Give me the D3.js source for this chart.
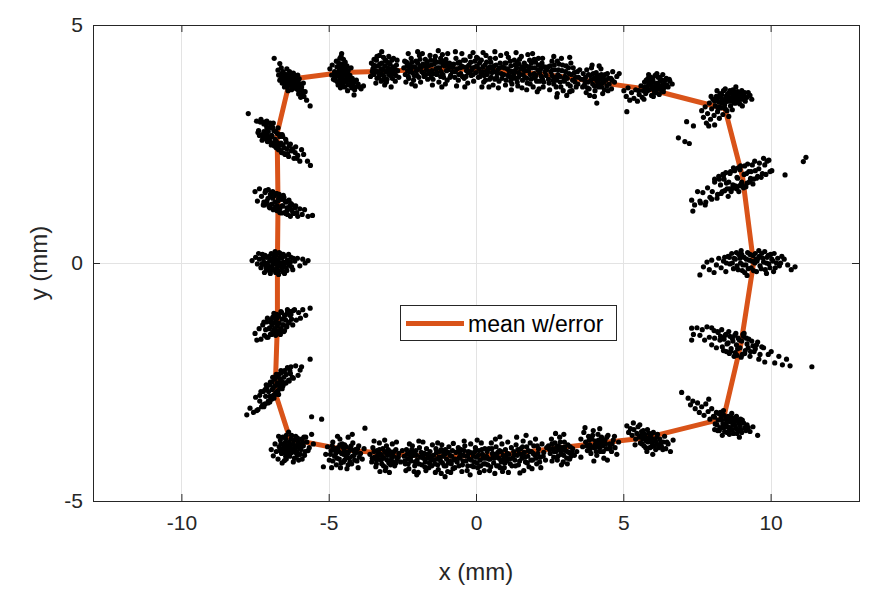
<!DOCTYPE html>
<html>
<head>
<meta charset="utf-8">
<script src="https://cdn.jsdelivr.net/npm/d3@7"></script>
<style>
  body { margin: 0; background: #fff; }
  svg { display: block; font-family: "Liberation Sans", Arial, Helvetica, sans-serif; }
</style>
</head>
<body>
<svg id="chart" width="881" height="594"></svg>
<script>
// Axis settings (mm)
const xDomain = [-13, 13];
const yDomain = [-5, 5];
const xTicks = [-10, -5, 0, 5, 10];
const yTicks = [-5, 0, 5];
const xLabel = "x (mm)";
const yLabel = "y (mm)";
const legendLabel = "mean w/error";

// Mean trajectory through the target positions (closed loop, clockwise from top-left)
const meanPath = [
  [-6.31,3.86],[-4.55,4.00],[-3.10,4.03],[-2.00,4.06],[-1.20,4.07],[-0.30,4.07],[0.50,4.05],[1.30,4.02],
  [2.00,3.98],[2.90,3.92],[4.10,3.80],[5.95,3.64],[8.45,3.24],[9.05,1.80],[9.42,0.00],[9.00,-1.68],
  [8.40,-3.27],[5.80,-3.67],[4.20,-3.78],[2.85,-3.88],[1.70,-3.97],[0.80,-4.03],[-0.10,-4.05],[-1.00,-4.06],
  [-1.90,-4.05],[-3.00,-4.00],[-4.40,-3.93],[-6.31,-3.70],[-6.82,-2.72],[-6.74,-1.27],[-6.74,0.02],
  [-6.72,1.27],[-6.75,2.72],[-6.31,3.86]
];

// Measured positions, left side (top to bottom)
const leftColumn = [
  [-6.85,4.30],[-6.66,4.19],[-6.72,4.05],[-6.61,4.10],[-6.55,4.02],[-6.70,3.95],[-6.62,3.88],[-6.48,3.97],[-6.44,3.90],[-6.52,3.84],
  [-6.40,3.81],[-6.35,3.95],[-6.30,3.88],[-6.27,3.79],[-6.22,3.92],[-6.18,3.84],[-6.12,3.88],[-6.08,3.80],[-6.15,3.73],[-6.25,3.70],
  [-6.35,3.74],[-6.45,3.76],[-6.58,3.78],[-6.05,3.95],[-6.00,3.87],[-5.98,3.76],[-6.10,3.66],[-6.02,3.62],[-5.92,3.70],[-5.88,3.55],
  [-5.95,3.48],[-5.80,3.60],[-5.75,3.42],[-5.63,3.30],[-6.38,3.62],[-6.20,3.99],[-6.33,4.02],[-6.42,4.08],[-6.14,3.93],[-6.28,3.84],
  [-6.50,3.70],[-6.66,3.84],[-5.86,3.78],[-6.06,3.72],[-6.24,3.76],
  [-6.46,3.86],[-6.38,3.92],[-6.21,3.86],[-6.33,3.80],[-6.17,3.78],[-6.41,3.70],[-6.29,3.96],[-6.56,3.92],[-6.12,3.70],[-6.04,3.82],
  [-6.26,3.64],[-6.48,3.80],[-6.36,3.88],[-6.19,3.96],[-6.09,3.77],[-5.97,3.66],[-5.84,3.50],[-6.02,3.55],[-5.90,3.62],[-6.60,3.98],
  [-7.73,3.14],[-7.45,2.98],[-7.38,2.78],[-7.30,3.02],[-7.25,2.70],[-7.20,2.92],[-7.15,2.62],[-7.10,2.98],[-7.05,2.76],[-7.00,2.56],
  [-6.97,2.88],[-6.92,2.66],[-6.88,2.94],[-6.84,2.48],[-6.80,2.76],[-6.76,2.52],[-6.72,2.84],[-6.70,2.40],[-6.66,2.66],[-6.62,2.36],
  [-6.58,2.70],[-6.55,2.48],[-6.50,2.30],[-6.46,2.60],[-6.42,2.40],[-6.36,2.24],[-6.30,2.50],[-6.25,2.36],[-6.18,2.20],[-6.12,2.44],
  [-6.05,2.26],[-5.98,2.14],[-5.92,2.38],[-5.85,2.28],[-5.72,2.14],[-5.62,2.05],[-7.22,2.62],[-7.35,2.68],[-7.08,2.55],[-6.95,2.48],
  [-6.78,2.42],[-6.90,2.85],[-7.18,2.96],[-6.65,2.70],[-6.48,2.28],[-6.60,2.32],
  [-7.32,2.96],[-7.12,2.90],[-6.98,2.94],[-7.26,2.58],[-7.40,2.74],[-7.06,2.66],[-6.94,2.68],[-6.86,2.78],[-6.74,2.72],[-6.68,2.48],
  [-6.82,2.60],[-7.02,2.60],[-7.14,2.70],[-6.90,2.52],[-6.78,2.56],[-6.56,2.66],[-6.62,2.52],[-6.44,2.54],[-6.34,2.46],[-6.52,2.42],
  [-6.40,2.30],[-6.22,2.40],[-6.14,2.32],[-6.08,2.20],[-6.28,2.36],[-6.96,2.84],[-7.20,2.76],[-7.10,2.84],[-6.84,2.46],[-6.70,2.38],
  [-7.50,1.50],[-7.42,1.30],[-7.35,1.56],[-7.28,1.40],[-7.22,1.22],[-7.16,1.48],[-7.10,1.30],[-7.05,1.54],[-7.00,1.16],[-6.95,1.40],
  [-6.90,1.50],[-6.86,1.14],[-6.82,1.28],[-6.78,1.46],[-6.74,1.20],[-6.70,1.36],[-6.66,1.06],[-6.62,1.34],[-6.58,1.20],[-6.54,1.42],
  [-6.50,1.06],[-6.45,1.28],[-6.40,1.12],[-6.35,1.32],[-6.30,0.98],[-6.24,1.22],[-6.18,1.04],[-6.12,1.20],[-6.05,0.98],[-5.98,1.14],
  [-5.90,1.02],[-5.82,1.12],[-5.70,0.98],[-5.55,1.00],[-6.88,1.12],[-7.02,1.18],[-6.68,1.44],[-6.52,1.38],[-6.75,1.10],[-6.60,1.05],
  [-6.95,1.48],[-6.40,1.02],[-6.28,1.25],[-7.18,1.22],
  [-7.14,1.52],[-7.20,1.28],[-6.98,1.44],[-6.84,1.42],[-6.92,1.24],[-6.80,1.18],[-6.72,1.30],[-6.64,1.40],[-6.56,1.20],[-6.48,1.30],
  [-6.42,1.16],[-6.32,1.20],[-6.22,1.06],[-6.14,1.16],[-6.08,1.06],[-6.90,1.36],[-7.06,1.36],[-6.76,1.46],[-6.66,1.14],[-6.36,1.30],
  [-6.58,1.34],[-6.46,1.04],[-6.26,1.12],[-7.12,1.26],[-6.98,1.22],
  [-7.60,0.05],[-7.48,0.12],[-7.42,-0.02],[-7.35,0.08],[-7.30,-0.10],[-7.25,0.18],[-7.20,0.02],[-7.14,-0.06],[-7.10,0.12],[-7.05,-0.15],
  [-7.00,0.05],[-6.95,0.20],[-6.92,-0.08],[-6.88,0.10],[-6.84,-0.02],[-6.80,0.16],[-6.76,-0.12],[-6.72,0.04],[-6.68,0.22],[-6.64,-0.06],
  [-6.60,0.10],[-6.56,-0.18],[-6.52,0.02],[-6.48,0.14],[-6.44,-0.10],[-6.40,0.06],[-6.34,-0.04],[-6.28,0.12],[-6.22,-0.14],[-6.15,0.04],
  [-6.06,0.10],[-5.98,-0.06],[-5.88,0.08],[-5.80,0.00],[-5.70,0.05],[-7.18,-0.20],[-6.98,-0.22],[-6.70,-0.24],[-7.38,0.20],[-6.82,0.24],
  [-6.50,-0.22],[-6.36,0.18],[-6.62,0.00],[-6.90,0.00],[-7.08,0.00],
  [-7.22,0.10],[-7.12,-0.12],[-7.02,0.14],[-6.94,0.06],[-6.86,-0.14],[-6.78,0.06],[-6.74,-0.04],[-6.66,0.12],[-6.58,-0.10],[-6.54,0.18],
  [-6.46,0.00],[-6.42,-0.16],[-6.30,0.02],[-6.26,-0.08],[-6.20,0.10],[-7.04,-0.06],[-6.96,-0.16],[-6.88,0.18],[-6.80,-0.20],[-6.64,0.20],
  [-6.70,-0.16],[-7.16,0.16],[-6.86,0.02],[-6.52,-0.06],[-7.26,-0.02],
  [-7.50,-1.48],[-7.44,-1.62],[-7.36,-1.38],[-7.30,-1.60],[-7.24,-1.30],[-7.18,-1.52],[-7.12,-1.24],[-7.06,-1.56],[-7.00,-1.36],[-6.96,-1.20],
  [-6.92,-1.48],[-6.88,-1.14],[-6.84,-1.38],[-6.80,-1.52],[-6.76,-1.16],[-6.72,-1.42],[-6.68,-1.26],[-6.64,-1.50],[-6.60,-1.04],[-6.56,-1.30],
  [-6.52,-1.44],[-6.48,-1.10],[-6.44,-1.32],[-6.40,-0.98],[-6.34,-1.24],[-6.28,-1.08],[-6.22,-1.30],[-6.16,-0.98],[-6.10,-1.20],[-6.02,-1.04],
  [-5.96,-1.16],[-5.88,-0.98],[-5.78,-1.10],[-5.63,-0.95],[-7.20,-1.24],[-6.98,-1.50],[-6.70,-1.48],[-6.86,-1.06],[-6.50,-1.42],[-6.30,-1.02],
  [-7.08,-1.16],[-6.62,-1.02],[-6.78,-1.24],[-6.92,-1.30],[-5.63,-2.02],
  [-7.10,-1.56],[-7.02,-1.38],[-6.94,-1.50],[-6.86,-1.26],[-6.82,-1.44],[-6.74,-1.32],[-6.70,-1.12],[-6.66,-1.44],[-6.58,-1.18],[-6.54,-1.30],
  [-6.46,-1.20],[-6.42,-1.34],[-6.36,-1.26],[-6.32,-1.10],[-6.26,-1.18],[-6.20,-1.00],[-6.90,-1.14],[-7.14,-1.40],[-6.62,-1.38],[-6.80,-1.20],
  [-6.50,-1.10],[-6.98,-1.24],[-6.76,-1.08],[-6.40,-1.04],[-6.88,-1.44],
  [-7.78,-3.19],[-7.67,-3.05],[-7.55,-3.14],[-7.48,-2.82],[-7.40,-3.08],[-7.34,-2.78],[-7.28,-3.02],[-7.22,-2.70],[-7.16,-2.96],[-7.10,-2.62],
  [-7.05,-2.90],[-7.00,-2.56],[-6.96,-2.84],[-6.92,-2.50],[-6.88,-2.78],[-6.84,-2.44],[-6.80,-2.74],[-6.76,-2.40],[-6.72,-2.68],[-6.68,-2.34],
  [-6.64,-2.62],[-6.60,-2.30],[-6.55,-2.58],[-6.50,-2.26],[-6.45,-2.52],[-6.40,-2.20],[-6.34,-2.48],[-6.28,-2.18],[-6.20,-2.42],[-6.12,-2.16],
  [-6.04,-2.36],[-5.97,-2.25],[-5.92,-2.18],[-7.20,-3.02],[-7.00,-2.92],[-6.86,-2.84],[-6.70,-2.76],[-6.90,-2.40],[-7.12,-2.56],[-6.58,-2.64],
  [-6.98,-2.50],[-6.62,-2.26],[-7.30,-2.70],[-6.78,-2.34],[-5.58,-3.23],[-5.24,-3.28],
  [-7.24,-2.98],[-7.14,-2.80],[-7.06,-2.94],[-7.04,-2.70],[-6.94,-2.86],[-6.92,-2.66],[-6.84,-2.78],[-6.82,-2.58],[-6.74,-2.70],[-6.74,-2.52],
  [-6.66,-2.62],[-6.64,-2.44],[-6.58,-2.56],[-6.52,-2.40],[-6.48,-2.52],[-6.44,-2.34],[-6.36,-2.46],[-6.30,-2.32],[-6.24,-2.40],[-6.32,-2.26],
  [-7.00,-2.80],[-6.88,-2.62],[-6.78,-2.72],[-6.70,-2.56],[-6.60,-2.48],[-7.16,-2.66],[-7.34,-2.90],[-7.44,-3.10],
  [-6.95,-3.92],[-6.88,-4.05],[-6.82,-3.80],[-6.78,-3.96],[-6.72,-4.12],[-6.68,-3.86],[-6.64,-3.72],[-6.60,-4.00],[-6.55,-3.90],[-6.50,-4.15],
  [-6.48,-3.78],[-6.44,-3.62],[-6.40,-3.95],[-6.36,-3.84],[-6.32,-4.06],[-6.28,-3.70],[-6.24,-3.90],[-6.20,-3.80],[-6.16,-4.10],[-6.12,-3.64],
  [-6.08,-3.96],[-6.04,-3.76],[-6.00,-3.88],[-5.96,-4.02],[-5.92,-3.70],[-5.86,-3.84],[-5.80,-3.96],[-5.74,-3.76],[-5.66,-3.88],[-5.58,-3.60],
  [-5.52,-3.80],[-6.58,-4.20],[-6.36,-3.55],[-6.20,-4.18],[-5.90,-4.12],[-6.70,-3.64],[-6.46,-4.06],[-6.26,-3.98],[-6.10,-3.84],[-6.34,-3.76],
  [-5.78,-3.66],[-6.02,-4.14],[-6.52,-3.84],
  [-6.62,-3.80],[-6.54,-3.98],[-6.46,-3.70],[-6.42,-3.88],[-6.38,-4.02],[-6.30,-3.82],[-6.22,-3.96],[-6.18,-3.72],[-6.14,-3.88],[-6.06,-4.04],
  [-6.02,-3.80],[-5.94,-3.92],[-5.88,-3.76],[-5.82,-4.04],[-5.70,-3.94],[-6.56,-3.66],[-6.26,-3.62],[-6.06,-3.68],[-6.50,-3.98],[-6.34,-3.92],
  [-6.12,-3.98],[-5.98,-3.82],[-6.66,-3.94],[-6.44,-4.12],[-5.84,-3.66]
];

// Measured positions, top side (left to right)
const topRow = [
  [-4.56,4.40],[-4.62,4.30],[-4.50,4.28],[-4.66,4.20],[-4.54,4.18],[-4.44,4.22],[-4.72,4.12],[-4.60,4.10],[-4.48,4.08],[-4.38,4.14],
  [-4.80,4.02],[-4.68,4.00],[-4.56,3.98],[-4.44,3.96],[-4.34,4.04],[-4.90,3.95],[-4.76,3.92],[-4.62,3.88],[-4.50,3.86],[-4.38,3.90],
  [-4.28,3.94],[-4.84,3.86],[-4.70,3.80],[-4.56,3.76],[-4.42,3.80],[-4.30,3.84],[-4.20,3.88],[-4.26,3.74],[-4.14,3.80],[-4.60,3.68],
  [-4.46,3.70],[-4.10,3.70],[-4.00,3.76],[-3.90,3.66],[-3.82,3.72],[-4.14,3.53],[-4.96,4.08],[-4.88,4.16],[-4.24,4.10],[-4.36,3.62],
  [-4.74,4.24],[-4.52,4.04],[-4.40,4.02],[-4.66,3.94],
  [-4.58,4.34],[-4.52,4.12],[-4.64,4.04],[-4.46,4.14],[-4.70,3.96],[-4.58,3.92],[-4.48,3.96],[-4.36,3.98],[-4.78,3.84],[-4.64,3.82],
  [-4.52,3.80],[-4.40,3.86],[-4.26,3.82],[-4.18,3.76],[-4.68,3.74],[-4.52,3.72],[-4.34,3.74],[-4.22,3.68],[-4.06,3.84],[-3.96,3.70],
  [-4.60,4.16],[-4.42,4.08],[-4.32,3.92],[-4.82,3.96],[-4.12,3.64],
  [-3.55,4.20],[-3.50,4.08],[-3.46,3.96],[-3.42,4.14],[-3.38,4.26],[-3.34,4.02],[-3.30,3.90],[-3.26,4.18],[-3.22,4.08],[-3.18,3.96],
  [-3.14,4.32],[-3.10,4.14],[-3.06,4.02],[-3.02,3.86],[-2.98,4.20],[-2.94,4.08],[-2.90,3.94],[-2.86,4.26],[-2.82,4.12],[-2.78,3.98],
  [-2.74,3.82],[-2.70,4.16],[-2.66,4.04],[-2.62,3.90],[-3.20,4.44],[-3.40,3.78],[-3.10,3.74],[-2.88,3.70],[-3.58,3.92],[-3.28,4.36],
  [-2.96,4.34],[-3.46,4.28],[-3.16,3.84],[-2.80,4.30],[-3.36,3.88],[-3.04,4.24],[-3.24,3.98],[-2.92,4.00],
  [-3.48,4.16],[-3.40,4.04],[-3.32,4.14],[-3.28,3.96],[-3.20,4.20],[-3.16,4.06],[-3.12,3.92],[-3.08,4.26],[-3.00,4.10],[-2.96,3.96],
  [-2.92,4.18],[-2.84,4.04],[-2.76,4.08],[-2.72,3.94],[-2.68,4.26],[-3.36,4.34],[-3.22,3.82],[-3.04,3.80],[-2.84,3.88],[-3.52,4.02],
  [-2.45,4.10],[-2.40,3.96],[-2.36,4.22],[-2.32,4.04],[-2.28,3.88],[-2.24,4.16],[-2.20,4.30],[-2.16,4.00],[-2.12,3.84],[-2.08,4.12],
  [-2.04,4.24],[-2.00,3.94],[-1.96,4.08],[-1.92,4.36],[-1.88,3.80],[-1.84,4.02],[-1.80,4.18],[-1.76,3.92],[-1.72,4.28],[-1.68,4.06],
  [-1.64,3.86],[-2.30,4.40],[-2.18,3.76],[-1.98,4.44],[-2.06,3.72],[-1.82,4.40],[-2.38,3.80],[-1.70,3.96],[-2.22,4.08],[-1.90,4.14],
  [-2.42,4.24],[-2.34,4.14],[-2.26,4.02],[-2.18,4.22],[-2.14,4.12],[-2.10,3.94],[-2.02,4.04],[-1.98,4.20],[-1.94,3.90],[-1.86,4.12],
  [-1.78,3.98],[-1.74,4.14],[-1.66,4.22],[-2.30,3.92],[-1.90,4.28],
  [-1.62,4.14],[-1.58,3.98],[-1.54,4.26],[-1.50,4.04],[-1.46,3.86],[-1.42,4.18],[-1.38,4.34],[-1.34,3.96],[-1.30,4.10],[-1.26,3.80],
  [-1.22,4.22],[-1.18,4.02],[-1.14,4.38],[-1.10,3.90],[-1.06,4.14],[-1.02,4.28],[-0.98,3.84],[-0.94,4.06],[-0.90,4.20],[-0.86,3.94],
  [-0.82,4.12],[-1.48,3.74],[-1.28,4.46],[-1.16,3.70],[-1.36,4.08],[-1.04,3.76],[-1.20,3.92],[-0.96,4.40],[-1.56,4.36],[-1.12,4.16],
  [-1.60,4.02],[-1.52,4.16],[-1.44,3.98],[-1.40,4.26],[-1.32,4.00],[-1.24,4.10],[-1.20,4.30],[-1.12,3.96],[-1.08,4.24],[-1.00,4.04],
  [-0.92,4.14],[-0.88,3.90],[-1.34,4.22],[-1.52,3.90],[-0.98,4.20],
  [-0.80,4.02],[-0.76,4.18],[-0.72,3.90],[-0.68,4.30],[-0.64,4.08],[-0.60,3.84],[-0.56,4.22],[-0.52,3.98],[-0.48,4.40],[-0.44,4.12],
  [-0.40,3.88],[-0.36,4.26],[-0.32,4.04],[-0.28,3.78],[-0.24,4.16],[-0.20,4.34],[-0.16,3.94],[-0.12,4.10],[-0.08,3.82],[-0.04,4.24],
  [0.00,4.00],[0.04,4.14],[0.08,3.90],[-0.66,3.72],[-0.38,3.70],[-0.10,4.42],[-0.54,4.10],[-0.26,4.00],[-0.70,4.44],[0.06,4.30],
  [-0.78,4.12],[-0.70,4.02],[-0.62,4.20],[-0.58,3.96],[-0.50,4.14],[-0.42,4.26],[-0.34,3.92],[-0.30,4.12],[-0.22,4.02],[-0.18,4.22],
  [-0.10,3.96],[-0.02,4.12],[0.02,4.32],[-0.46,3.92],[-0.14,4.06],
  [0.10,4.08],[0.14,3.92],[0.18,4.26],[0.22,4.02],[0.26,3.80],[0.30,4.16],[0.34,4.36],[0.38,3.96],[0.42,4.10],[0.46,3.86],
  [0.50,4.22],[0.54,4.00],[0.58,3.74],[0.62,4.14],[0.66,4.30],[0.70,3.90],[0.74,4.06],[0.78,3.82],[0.82,4.20],[0.86,3.98],
  [0.90,4.12],[0.24,4.42],[0.44,3.70],[0.64,4.44],[0.36,4.04],[0.56,4.08],[0.76,3.68],[0.20,3.70],[0.48,4.30],[0.84,4.36],
  [0.12,4.20],[0.16,4.00],[0.24,4.12],[0.28,3.94],[0.36,4.22],[0.40,4.02],[0.48,4.12],[0.52,3.90],[0.60,4.02],[0.68,4.16],
  [0.72,3.98],[0.80,4.10],[0.88,3.88],[0.32,3.84],[0.64,3.86],
  [0.94,3.96],[0.98,4.20],[1.02,3.84],[1.06,4.08],[1.10,4.32],[1.14,3.92],[1.18,4.14],[1.22,3.76],[1.26,4.02],[1.30,4.26],
  [1.34,3.88],[1.38,4.10],[1.42,3.72],[1.46,4.18],[1.50,3.96],[1.54,4.34],[1.58,3.84],[1.62,4.06],[1.04,4.40],[1.20,3.64],
  [1.36,4.42],[1.12,4.04],[1.28,3.96],[1.44,4.00],[1.56,3.68],[1.00,3.74],[1.32,4.16],[1.48,4.28],
  [0.96,4.10],[1.02,4.20],[1.08,3.94],[1.16,4.24],[1.20,4.02],[1.24,3.88],[1.32,4.04],[1.40,4.22],[1.44,3.90],[1.52,4.08],
  [1.60,3.96],[1.64,4.20],[1.18,3.82],[1.40,3.80],[1.56,4.12],
  [1.66,3.90],[1.70,4.14],[1.74,3.78],[1.78,4.04],[1.82,4.26],[1.86,3.86],[1.90,4.10],[1.94,3.70],[1.98,3.98],[2.02,4.22],
  [2.06,3.82],[2.10,4.06],[2.14,3.66],[2.18,4.16],[2.22,3.92],[2.26,4.30],[2.30,3.80],[2.34,4.02],[1.76,4.38],[1.92,4.40],
  [2.08,3.60],[1.84,3.96],[2.00,3.88],[2.16,4.00],[1.72,3.64],[2.28,3.70],[2.12,4.30],
  [1.68,4.04],[1.72,3.88],[1.80,4.12],[1.84,3.76],[1.88,4.20],[1.96,3.90],[2.00,4.10],[2.04,3.94],[2.12,4.16],[2.16,3.82],
  [2.20,4.08],[2.26,3.86],[2.32,4.12],[1.98,4.28],[2.24,4.20],
  [2.38,3.94],[2.44,4.12],[2.48,3.78],[2.54,4.02],[2.58,4.24],[2.62,3.84],[2.68,4.06],[2.72,3.70],[2.78,3.96],[2.82,4.18],
  [2.86,3.80],[2.92,4.04],[2.96,3.62],[3.02,3.92],[3.06,4.14],[3.12,3.76],[3.16,3.98],[3.22,4.20],[3.28,3.84],[3.34,4.00],
  [3.40,3.70],[3.48,3.90],[2.64,4.34],[2.90,4.30],[2.76,3.56],[3.08,3.52],[3.18,4.32],[2.50,3.64],[2.98,3.88],[3.26,3.62],
  [2.70,3.90],[3.52,4.06],[2.74,3.49],
  [2.40,4.06],[2.46,3.86],[2.52,4.14],[2.58,3.94],[2.64,3.76],[2.66,4.16],[2.74,3.84],[2.80,4.06],[2.84,3.92],[2.88,3.70],
  [2.94,4.16],[3.00,3.82],[3.04,4.02],[3.10,3.88],[3.14,4.10],[3.20,3.72],[3.24,3.96],[3.30,4.10],[3.36,3.80],[3.44,4.02],
  [2.60,4.06],[2.76,4.24],[3.18,3.60],[3.38,3.90],[3.46,3.76],
  [3.58,3.86],[3.64,3.98],[3.68,3.74],[3.72,3.90],[3.76,4.06],[3.80,3.80],[3.84,3.66],[3.88,3.94],[3.92,4.10],[3.96,3.76],
  [4.00,3.88],[4.04,3.62],[4.08,4.00],[4.12,3.82],[4.16,3.70],[4.20,3.94],[4.24,4.08],[4.28,3.78],[4.32,3.90],[4.36,3.64],
  [4.40,3.84],[4.46,3.98],[4.52,3.76],[4.58,3.88],[4.64,4.02],[4.70,3.80],[4.78,3.92],[4.86,3.98],[3.74,3.58],[4.02,3.50],
  [4.10,3.36],[4.30,3.56],[4.48,3.62],[3.94,4.16],[4.18,4.14],[4.60,3.66],[3.86,3.52],[4.26,3.96],[4.06,3.86],[3.62,3.70],
  [3.70,3.82],[3.78,3.68],[3.82,3.96],[3.90,3.84],[3.98,3.98],[4.02,3.72],[4.10,3.92],[4.14,3.76],[4.22,3.86],[4.26,3.70],
  [4.34,3.80],[4.38,3.96],[4.44,3.72],[4.50,3.88],[4.62,3.84],
  [5.02,3.62],[5.10,3.50],[5.16,3.68],[5.22,3.42],[5.28,3.58],[5.36,3.46],[5.42,3.64],[5.48,3.40],[5.54,3.54],[5.60,3.72],
  [5.64,3.48],[5.68,3.62],[5.72,3.80],[5.76,3.56],[5.80,3.70],[5.84,3.88],[5.88,3.64],[5.92,3.76],[5.96,3.52],[6.00,3.86],
  [6.04,3.68],[6.08,3.94],[6.12,3.58],[6.16,3.78],[6.20,3.66],[6.24,3.90],[6.28,3.72],[6.32,3.84],[6.36,3.60],[6.40,3.76],
  [6.46,3.88],[6.52,3.70],[6.58,3.82],[6.66,3.76],[5.86,3.96],[6.14,3.98],[5.70,3.44],[6.02,3.50],[5.90,3.84],[6.22,3.54],
  [5.12,3.18],[5.52,3.62],[6.34,3.96],
  [5.74,3.70],[5.78,3.84],[5.82,3.62],[5.86,3.76],[5.94,3.90],[5.98,3.66],[6.02,3.80],[6.06,3.60],[6.10,3.76],[6.18,3.90],
  [6.22,3.70],[6.26,3.82],[6.30,3.62],[6.34,3.74],[6.42,3.84],[6.48,3.74],[6.56,3.86],[6.14,3.68],[5.96,3.72],[6.38,3.68]
];

// Measured positions, right side (top to bottom)
const rightColumn = [
  [7.66,3.20],[7.72,3.06],[7.78,3.28],[7.82,2.94],[7.86,3.14],[7.92,3.36],[7.96,3.02],[8.00,3.24],[8.04,3.44],[8.08,3.10],
  [8.12,3.30],[8.16,3.50],[8.20,3.18],[8.24,3.38],[8.28,3.56],[8.32,3.26],[8.36,3.44],[8.40,3.62],[8.44,3.32],[8.48,3.50],
  [8.52,3.20],[8.56,3.40],[8.60,3.58],[8.64,3.30],[8.68,3.48],[8.72,3.64],[8.76,3.36],[8.80,3.52],[8.84,3.42],[8.88,3.60],
  [8.92,3.46],[8.96,3.34],[9.00,3.54],[9.06,3.44],[9.12,3.58],[9.20,3.48],[9.30,3.52],[9.36,3.44],[8.10,2.90],[8.26,3.04],
  [7.90,2.88],[8.38,3.12],[8.58,3.08],[8.70,3.22],[8.46,3.66],[8.82,3.70],[8.18,3.62],[7.98,3.50],[8.34,3.36],[8.62,3.44],
  [9.04,3.30],[7.15,2.97],[7.38,2.88],[6.87,2.63],[7.09,2.55],[7.24,2.51],
  [8.10,3.40],[8.20,3.46],[8.26,3.28],[8.30,3.50],[8.42,3.42],[8.46,3.24],[8.50,3.40],[8.54,3.56],[8.58,3.48],[8.66,3.40],
  [8.70,3.56],[8.74,3.44],[8.78,3.60],[8.82,3.36],[8.86,3.50],[8.90,3.40],[8.94,3.56],[8.98,3.44],[9.02,3.62],[9.08,3.52],
  [9.14,3.40],[9.24,3.58],[8.34,3.54],[8.62,3.62],[8.22,3.24],
  [7.32,1.32],[7.42,1.22],[7.52,1.50],[7.60,1.30],[7.70,1.48],[7.78,1.22],[7.86,1.58],[7.94,1.38],[8.02,1.50],[8.10,1.70],
  [8.18,1.36],[8.26,1.76],[8.32,1.46],[8.38,1.86],[8.44,1.52],[8.50,1.68],[8.56,1.40],[8.62,1.88],[8.68,1.56],[8.74,2.00],
  [8.80,1.62],[8.86,1.80],[8.92,1.50],[8.98,2.04],[9.04,1.64],[9.10,1.86],[9.16,1.60],[9.22,2.08],[9.28,1.70],[9.34,1.92],
  [9.40,1.66],[9.46,2.14],[9.52,1.78],[9.60,1.98],[9.68,1.80],[9.76,2.20],[9.84,1.86],[9.94,2.16],[10.04,1.94],[8.00,1.34],
  [8.60,1.56],[9.00,1.66],[9.30,1.72],[8.40,1.84],[8.90,2.00],[7.36,1.09],[10.49,1.85],[11.11,2.13],[11.20,2.22],
  [8.10,1.76],[8.20,1.44],[8.24,1.82],[8.30,1.64],[8.36,1.50],[8.42,1.76],[8.48,1.90],[8.52,1.56],[8.58,1.70],[8.64,1.92],
  [8.66,1.50],[8.72,1.64],[8.78,1.94],[8.84,1.56],[8.88,1.78],[8.94,1.62],[8.96,1.96],[9.02,1.70],[9.08,1.58],[9.12,2.04],
  [9.18,1.88],[9.20,1.68],[9.26,1.92],[9.32,1.78],[9.38,2.06],[9.42,1.76],[9.48,1.94],[9.56,1.82],[9.62,2.10],[9.72,1.88],
  [9.80,2.06],[9.88,2.14],[9.98,1.92],[7.80,1.28],[7.62,1.26],
  [7.60,-0.25],[7.72,-0.08],[7.84,0.02],[7.92,-0.14],[8.00,0.06],[8.08,-0.20],[8.16,-0.04],[8.24,0.10],[8.32,-0.10],[8.40,0.04],
  [8.48,-0.18],[8.56,0.14],[8.62,-0.02],[8.68,0.20],[8.74,-0.12],[8.80,0.08],[8.86,-0.06],[8.92,0.18],[8.98,0.00],[9.04,-0.16],
  [9.10,0.12],[9.16,-0.04],[9.22,0.22],[9.28,0.06],[9.34,-0.10],[9.40,0.16],[9.46,0.00],[9.52,-0.18],[9.58,0.10],[9.64,-0.06],
  [9.70,0.20],[9.76,0.02],[9.82,-0.14],[9.88,0.12],[9.94,-0.02],[10.00,0.18],[10.08,0.04],[10.16,-0.10],[10.24,0.10],[10.34,0.00],
  [10.46,0.08],[10.58,-0.04],[10.70,-0.14],[10.83,-0.08],[9.00,0.26],[9.60,0.26],[9.20,-0.26],[9.86,-0.22],[8.50,0.00],[9.50,0.08],
  [8.76,0.10],[8.84,0.22],[8.90,-0.14],[8.96,0.10],[9.02,0.18],[9.06,-0.04],[9.12,-0.20],[9.18,0.08],[9.24,-0.12],[9.30,0.18],
  [9.36,0.04],[9.42,-0.16],[9.48,0.20],[9.54,0.04],[9.62,0.14],[9.68,-0.12],[9.74,0.10],[9.80,0.24],[9.86,0.00],[9.92,0.16],
  [9.98,-0.10],[10.04,0.08],[10.12,0.20],[10.20,0.00],[10.30,-0.06],[8.60,0.12],[8.70,0.00],[8.44,0.12],[10.38,0.14],[10.10,-0.18],
  [7.32,-1.37],[7.38,-1.50],[7.32,-1.62],[7.50,-1.36],[7.60,-1.52],[7.68,-1.40],[7.76,-1.62],[7.84,-1.34],[7.92,-1.56],[8.00,-1.72],
  [8.08,-1.42],[8.16,-1.78],[8.22,-1.46],[8.28,-1.62],[8.34,-1.40],[8.40,-1.84],[8.46,-1.52],[8.52,-1.70],[8.58,-1.44],[8.64,-1.86],
  [8.70,-1.58],[8.76,-1.96],[8.82,-1.48],[8.88,-1.80],[8.94,-1.62],[9.00,-1.98],[9.06,-1.50],[9.12,-1.90],[9.18,-1.58],[9.24,-1.78],
  [9.30,-1.96],[9.36,-1.64],[9.44,-1.86],[9.52,-1.72],[9.60,-2.02],[9.70,-1.76],[9.80,-2.08],[9.92,-1.92],[10.02,-1.86],[10.14,-2.10],
  [10.28,-1.96],[10.40,-2.14],[10.54,-2.02],[10.66,-2.16],[11.40,-2.18],[8.60,-1.90],[9.10,-1.48],[8.00,-1.36],[8.86,-1.94],
  [8.30,-1.54],[8.36,-1.76],[8.42,-1.60],[8.48,-1.50],[8.50,-1.86],[8.56,-1.68],[8.62,-1.54],[8.66,-1.80],[8.72,-1.64],[8.78,-1.52],
  [8.80,-1.88],[8.84,-1.72],[8.90,-1.58],[8.96,-1.78],[9.02,-1.64],[9.04,-1.92],[9.08,-1.54],[9.14,-1.84],[9.20,-1.70],[9.26,-1.60],
  [9.32,-1.86],[9.40,-1.74],[9.48,-1.80],[9.56,-1.66],[9.64,-1.92],[9.76,-1.78],[8.20,-1.44],[8.10,-1.58],
  [6.98,-2.72],[7.20,-2.84],[7.28,-2.98],[7.36,-2.90],[7.44,-3.06],[7.52,-2.94],[7.58,-3.14],[7.66,-3.02],[7.74,-3.20],[7.80,-2.96],
  [7.88,-3.12],[7.94,-3.28],[8.00,-3.06],[8.06,-3.22],[8.12,-3.38],[8.16,-3.14],[8.22,-3.30],[8.28,-3.46],[8.32,-3.22],[8.38,-3.38],
  [8.44,-3.54],[8.48,-3.28],[8.54,-3.44],[8.60,-3.60],[8.64,-3.34],[8.70,-3.50],[8.76,-3.26],[8.80,-3.42],[8.86,-3.58],[8.92,-3.36],
  [8.98,-3.50],[9.04,-3.30],[9.12,-3.46],[9.20,-3.40],[9.30,-3.54],[9.40,-3.44],[9.56,-3.62],[8.20,-3.52],[8.40,-3.10],[8.68,-3.16],
  [8.94,-3.66],[8.58,-3.30],[8.36,-3.62],[7.90,-2.86],[8.10,-3.50],[8.84,-3.22],
  [8.10,-3.24],[8.18,-3.40],[8.24,-3.16],[8.26,-3.52],[8.34,-3.30],[8.40,-3.46],[8.42,-3.20],[8.50,-3.36],[8.52,-3.56],[8.56,-3.22],
  [8.62,-3.46],[8.66,-3.26],[8.72,-3.40],[8.74,-3.58],[8.78,-3.34],[8.84,-3.48],[8.88,-3.30],[8.92,-3.52],[8.96,-3.42],[9.02,-3.56],
  [9.08,-3.36],[9.16,-3.52],[9.24,-3.46],[8.30,-3.14],[8.46,-3.44],[8.70,-3.30],[8.60,-3.52],[8.98,-3.28]
];

// Measured positions, bottom side (left to right)
const bottomRow = [
  [-5.18,-4.28],[-5.10,-4.02],[-5.04,-3.86],[-4.98,-4.14],[-4.92,-3.94],[-4.86,-3.76],[-4.80,-4.06],[-4.74,-4.24],[-4.68,-3.88],[-4.62,-3.70],
  [-4.56,-4.00],[-4.50,-4.18],[-4.46,-3.82],[-4.42,-3.98],[-4.38,-4.32],[-4.34,-3.66],[-4.30,-4.10],[-4.26,-3.90],[-4.22,-4.22],[-4.18,-3.78],
  [-4.14,-4.04],[-4.10,-3.92],[-4.04,-4.16],[-3.98,-3.84],[-3.92,-4.00],[-3.86,-4.12],[-3.80,-3.90],[-3.77,-3.47],[-4.70,-3.64],[-4.52,-3.86],
  [-4.40,-4.08],[-4.60,-4.30],[-4.90,-4.30],[-4.20,-3.60],[-4.84,-3.92],[-4.32,-3.96],[-4.00,-4.30],[-4.76,-4.00],[-4.48,-3.92],[-4.64,-4.12],
  [-4.94,-4.02],[-4.86,-4.16],[-4.78,-3.90],[-4.72,-4.10],[-4.66,-3.96],[-4.58,-4.20],[-4.54,-3.80],[-4.46,-4.14],[-4.40,-3.86],[-4.36,-4.00],
  [-4.28,-4.18],[-4.24,-3.84],[-4.16,-3.94],[-4.12,-4.14],[-4.06,-3.98],[-3.96,-4.08],[-4.50,-4.02],[-4.62,-3.82],[-4.34,-4.24],[-4.20,-4.06],
  [-4.88,-3.84],[-4.02,-3.90],
  [-3.60,-4.02],[-3.54,-4.18],[-3.50,-3.88],[-3.44,-4.08],[-3.40,-4.28],[-3.36,-3.94],[-3.32,-4.12],[-3.28,-3.78],[-3.24,-4.02],[-3.20,-4.22],
  [-3.16,-3.90],[-3.12,-4.10],[-3.08,-4.36],[-3.04,-3.84],[-3.00,-4.04],[-2.96,-4.20],[-2.92,-3.96],[-2.88,-4.14],[-2.84,-3.80],[-2.80,-4.06],
  [-2.76,-4.26],[-2.72,-3.92],[-2.68,-4.12],[-2.62,-4.00],[-2.56,-4.18],[-2.50,-3.94],[-3.46,-3.74],[-3.10,-3.72],[-2.94,-4.40],[-3.26,-4.38],
  [-2.70,-3.76],[-3.38,-4.14],[-3.06,-3.98],[-2.86,-4.00],[-3.18,-4.06],
  [-3.52,-4.10],[-3.46,-3.96],[-3.38,-4.22],[-3.34,-4.04],[-3.28,-3.92],[-3.22,-4.14],[-3.14,-4.26],[-3.10,-3.96],[-3.02,-4.14],[-2.98,-3.92],
  [-2.90,-4.24],[-2.86,-4.08],[-2.78,-3.96],[-2.72,-4.20],[-2.64,-4.08],[-3.30,-4.02],[-3.06,-4.30],[-2.82,-4.18],
  [-2.44,-4.06],[-2.40,-4.22],[-2.36,-3.92],[-2.32,-4.12],[-2.28,-4.32],[-2.24,-3.98],[-2.20,-4.16],[-2.16,-3.84],[-2.12,-4.04],[-2.08,-4.26],
  [-2.04,-3.94],[-2.00,-4.14],[-1.96,-4.40],[-1.92,-3.88],[-1.88,-4.08],[-1.84,-4.24],[-1.80,-3.76],[-1.76,-4.00],[-1.72,-4.18],[-1.68,-3.90],
  [-1.64,-4.10],[-1.60,-4.30],[-1.56,-3.96],[-1.52,-4.14],[-1.48,-3.82],[-2.01,-4.45],[-2.26,-3.80],[-1.94,-3.74],[-2.10,-4.38],[-1.70,-4.36],
  [-2.38,-4.36],[-1.82,-4.02],[-2.14,-4.00],
  [-2.42,-4.16],[-2.34,-4.02],[-2.30,-4.22],[-2.22,-4.08],[-2.18,-3.92],[-2.06,-4.18],[-2.02,-4.04],[-1.94,-4.22],[-1.86,-3.98],[-1.78,-4.10],
  [-1.74,-4.28],[-1.66,-4.02],[-1.58,-4.20],[-1.54,-4.06],[-1.50,-4.26],
  [-1.44,-4.04],[-1.40,-4.22],[-1.36,-3.90],[-1.32,-4.12],[-1.28,-4.34],[-1.24,-3.96],[-1.20,-4.16],[-1.16,-3.82],[-1.12,-4.06],[-1.08,-4.26],
  [-1.04,-3.92],[-1.00,-4.12],[-0.96,-4.38],[-0.92,-3.86],[-0.88,-4.04],[-0.84,-4.22],[-0.80,-3.94],[-0.76,-4.14],[-0.77,-3.79],[-0.72,-4.30],
  [-0.68,-3.98],[-0.64,-4.18],[-0.60,-3.88],[-0.56,-4.08],[-1.05,-4.49],[-1.30,-3.78],[-1.18,-4.42],[-0.86,-4.40],[-1.38,-4.40],[-1.10,-3.98],
  [-0.94,-4.20],[-1.22,-4.08],
  [-1.42,-4.14],[-1.34,-3.98],[-1.30,-4.24],[-1.26,-4.08],[-1.18,-3.92],[-1.14,-4.20],[-1.06,-4.02],[-1.02,-4.26],[-0.94,-3.98],[-0.90,-4.16],
  [-0.82,-4.06],[-0.78,-4.32],[-0.70,-4.12],[-0.62,-3.96],[-0.58,-4.26],
  [-0.54,-4.10],[-0.50,-3.92],[-0.46,-4.24],[-0.42,-4.04],[-0.38,-3.84],[-0.34,-4.16],[-0.30,-4.36],[-0.26,-3.96],[-0.22,-4.12],[-0.18,-3.80],
  [-0.14,-4.26],[-0.10,-4.00],[-0.06,-4.18],[-0.02,-3.88],[0.02,-4.08],[0.06,-4.30],[0.10,-3.94],[0.14,-4.14],[0.18,-3.78],[0.22,-4.02],
  [0.26,-4.22],[0.30,-3.90],[0.34,-4.10],[-0.20,-4.45],[-0.40,-3.74],[0.04,-3.72],[-0.28,-4.04],[0.12,-4.40],[-0.48,-4.38],[0.28,-4.36],
  [-0.08,-4.06],
  [-0.52,-4.02],[-0.44,-4.16],[-0.40,-3.94],[-0.32,-4.06],[-0.28,-4.26],[-0.20,-3.98],[-0.16,-4.14],[-0.08,-4.28],[-0.04,-3.96],[0.04,-4.20],
  [0.08,-4.04],[0.16,-4.26],[0.20,-3.92],[0.24,-4.10],[0.32,-4.22],
  [0.36,-4.06],[0.40,-4.24],[0.44,-3.90],[0.48,-4.12],[0.52,-3.78],[0.56,-4.00],[0.60,-4.20],[0.64,-4.42],[0.68,-3.86],[0.72,-4.08],
  [0.76,-4.26],[0.80,-3.94],[0.81,-3.65],[0.84,-4.14],[0.88,-3.80],[0.92,-4.04],[0.96,-4.30],[1.00,-3.92],[1.04,-4.16],[1.08,-3.76],
  [1.12,-4.02],[1.16,-4.22],[1.20,-3.88],[1.24,-4.10],[0.46,-4.36],[0.66,-3.70],[0.90,-4.38],[1.10,-4.40],[0.58,-4.04],[0.74,-3.98],
  [1.02,-4.08],[0.86,-4.18],
  [0.38,-3.96],[0.44,-4.12],[0.50,-4.28],[0.54,-3.90],[0.62,-4.10],[0.66,-4.02],[0.70,-4.26],[0.78,-4.10],[0.82,-4.30],[0.86,-3.96],
  [0.94,-4.12],[0.98,-4.20],[1.06,-4.00],[1.14,-4.12],[1.22,-4.26],
  [1.28,-3.96],[1.32,-4.14],[1.36,-3.82],[1.40,-4.04],[1.44,-4.24],[1.49,-4.41],[1.52,-3.90],[1.56,-4.10],[1.60,-3.74],[1.64,-3.98],
  [1.68,-4.18],[1.72,-3.86],[1.76,-4.06],[1.80,-4.28],[1.84,-3.78],[1.88,-3.96],[1.92,-4.14],[1.96,-3.84],[2.00,-4.04],[2.06,-4.22],
  [2.12,-3.90],[2.18,-4.08],[2.24,-3.80],[2.30,-3.98],[2.36,-4.14],[2.40,-3.88],[1.38,-3.66],[1.70,-3.62],[2.02,-3.70],[1.62,-4.36],
  [1.90,-4.32],[2.20,-4.30],[1.46,-4.00],[1.78,-3.94],[2.10,-4.00],
  [1.30,-4.04],[1.34,-4.26],[1.42,-3.92],[1.48,-4.16],[1.54,-4.02],[1.58,-3.86],[1.66,-4.08],[1.74,-4.20],[1.82,-3.96],[1.86,-4.14],
  [1.94,-4.00],[2.04,-4.10],[2.08,-3.84],[2.16,-4.18],[2.28,-4.06],
  [2.46,-3.84],[2.52,-4.00],[2.56,-3.70],[2.60,-3.90],[2.64,-4.08],[2.68,-3.78],[2.72,-3.96],[2.76,-4.14],[2.80,-3.84],[2.84,-3.66],
  [2.88,-4.02],[2.92,-3.88],[2.96,-4.18],[3.00,-3.76],[3.04,-3.94],[3.08,-4.10],[3.12,-3.82],[3.16,-3.98],[3.22,-4.06],[3.28,-3.90],
  [3.34,-4.04],[3.42,-3.96],[3.56,-4.08],[2.70,-3.58],[2.90,-4.24],[3.10,-4.22],[2.58,-4.16],[2.98,-3.60],[2.82,-3.92],[3.20,-3.86],
  [2.50,-3.92],[2.58,-3.80],[2.66,-3.96],[2.74,-3.86],[2.78,-4.06],[2.86,-3.76],[2.90,-3.96],[2.98,-4.04],[3.02,-3.86],[3.10,-3.96],
  [3.18,-4.12],[3.26,-3.98],
  [3.56,-3.70],[3.62,-3.86],[3.66,-3.56],[3.72,-3.76],[3.78,-3.94],[3.82,-3.64],[3.86,-3.82],[3.90,-4.00],[3.94,-3.70],[3.98,-3.52],
  [4.02,-3.88],[4.06,-3.74],[4.10,-4.04],[4.14,-3.60],[4.18,-3.80],[4.22,-3.96],[4.26,-3.66],[4.30,-3.84],[4.34,-4.10],[4.38,-3.72],
  [4.42,-3.90],[4.48,-3.62],[4.54,-3.80],[4.60,-3.96],[4.66,-3.72],[4.72,-3.88],[4.78,-4.02],[3.70,-3.46],[4.00,-4.16],[4.46,-4.14],
  [4.20,-3.48],[3.88,-3.90],[4.24,-3.76],[4.56,-3.88],[4.12,-3.86],[4.84,-3.76],
  [3.76,-3.84],[3.84,-3.72],[3.92,-3.86],[3.96,-3.62],[4.04,-3.82],[4.08,-3.96],[4.16,-3.72],[4.20,-3.88],[4.28,-3.74],[4.32,-3.96],
  [4.40,-3.80],[4.44,-3.66],[4.52,-3.90],[4.62,-3.80],[4.70,-3.64],
  [5.12,-3.42],[5.18,-3.56],[5.24,-3.48],[5.30,-3.62],[5.36,-3.50],[5.42,-3.70],[5.46,-3.58],[5.50,-3.44],[5.54,-3.66],[5.58,-3.78],
  [5.62,-3.54],[5.66,-3.70],[5.70,-3.84],[5.74,-3.60],[5.78,-3.74],[5.82,-3.50],[5.86,-3.68],[5.90,-3.88],[5.94,-3.62],[5.98,-3.78],
  [6.02,-3.56],[6.06,-3.72],[6.10,-3.92],[6.14,-3.66],[6.18,-3.82],[6.24,-3.70],[6.30,-3.86],[6.36,-3.76],[6.44,-3.90],[6.52,-3.80],
  [6.60,-3.96],[6.69,-3.72],[5.34,-3.36],[5.56,-3.40],[5.80,-3.96],[6.00,-4.02],[5.68,-3.52],[6.40,-3.64],[5.92,-3.74],[5.40,-3.82],
  [5.60,-3.62],[5.64,-3.80],[5.72,-3.66],[5.76,-3.88],[5.84,-3.76],[5.88,-3.58],[5.96,-3.86],[6.00,-3.70],[6.04,-3.84],[6.12,-3.76],
  [6.16,-3.60],[6.20,-3.88],[6.28,-3.78],[6.34,-3.92],[6.48,-3.76]
];

const samples = [].concat(leftColumn, topRow, rightColumn, bottomRow);

// Layout
const plot = { left: 93, right: 859, top: 25, bottom: 501 };
const ink = "#262626";
const meanColor = "#D95319";

const x = d3.scaleLinear().domain(xDomain).range([plot.left, plot.right]);
const y = d3.scaleLinear().domain(yDomain).range([plot.bottom, plot.top]);

const svg = d3.select("#chart");

// Grid
const grid = svg.append("g").attr("stroke", "#e3e3e3").attr("stroke-width", 1);
grid.selectAll("line.gx").data(xTicks).join("line")
  .attr("x1", d => Math.round(x(d)) + 0.5).attr("x2", d => Math.round(x(d)) + 0.5)
  .attr("y1", plot.top).attr("y2", plot.bottom);
grid.selectAll("line.gy").data(yTicks).join("line")
  .attr("y1", d => Math.round(y(d)) + 0.5).attr("y2", d => Math.round(y(d)) + 0.5)
  .attr("x1", plot.left).attr("x2", plot.right);

// Mean path
svg.append("path")
  .datum(meanPath)
  .attr("fill", "none")
  .attr("stroke", meanColor)
  .attr("stroke-width", 5)
  .attr("stroke-linejoin", "round")
  .attr("d", d3.line().x(d => x(d[0])).y(d => y(d[1])));

// Individual samples
svg.append("g").attr("fill", "#000")
  .selectAll("circle").data(samples).join("circle")
  .attr("cx", d => x(d[0]))
  .attr("cy", d => y(d[1]))
  .attr("r", 2.6);

// Axes (ticks pointing inward on all four sides)
const fmt = d => String(d);
const styleAxis = g => {
  g.select(".domain").remove();
  g.selectAll(".tick line").attr("stroke", ink);
  g.selectAll(".tick text").attr("fill", ink).attr("font-size", 21);
};
svg.append("g").attr("transform", `translate(0,${plot.bottom})`)
  .call(d3.axisBottom(x).tickValues(xTicks).tickSizeInner(-7).tickSizeOuter(0).tickPadding(14).tickFormat(fmt))
  .call(styleAxis);
svg.append("g").attr("transform", `translate(0,${plot.top})`)
  .call(d3.axisTop(x).tickValues(xTicks).tickSizeInner(-7).tickSizeOuter(0).tickFormat(""))
  .call(styleAxis);
svg.append("g").attr("transform", `translate(${plot.left},0)`)
  .call(d3.axisLeft(y).tickValues(yTicks).tickSizeInner(-7).tickSizeOuter(0).tickPadding(10).tickFormat(fmt))
  .call(styleAxis);
svg.append("g").attr("transform", `translate(${plot.right},0)`)
  .call(d3.axisRight(y).tickValues(yTicks).tickSizeInner(-7).tickSizeOuter(0).tickFormat(""))
  .call(styleAxis);

// Axes box
svg.append("rect")
  .attr("x", plot.left + 0.5).attr("y", plot.top + 0.5)
  .attr("width", plot.right - plot.left).attr("height", plot.bottom - plot.top)
  .attr("fill", "none").attr("stroke", ink).attr("stroke-width", 1);

// Axis titles
svg.append("text")
  .attr("x", (plot.left + plot.right) / 2).attr("y", 580)
  .attr("text-anchor", "middle").attr("fill", ink).attr("font-size", 24)
  .text(xLabel);
svg.append("text")
  .attr("transform", `translate(47,${(plot.top + plot.bottom) / 2}) rotate(-90)`)
  .attr("text-anchor", "middle").attr("fill", ink).attr("font-size", 24)
  .text(yLabel);

// Legend
const legend = svg.append("g").attr("transform", "translate(400,305)");
legend.append("rect")
  .attr("x", 0.5).attr("y", 0.5).attr("width", 216).attr("height", 35)
  .attr("fill", "#fff").attr("stroke", ink).attr("stroke-width", 1);
legend.append("line")
  .attr("x1", 6).attr("x2", 64).attr("y1", 18.5).attr("y2", 18.5)
  .attr("stroke", meanColor).attr("stroke-width", 5);
legend.append("text")
  .attr("x", 68).attr("y", 26.5)
  .attr("fill", "#000").attr("font-size", 23)
  .text(legendLabel);
</script>
</body>
</html>
